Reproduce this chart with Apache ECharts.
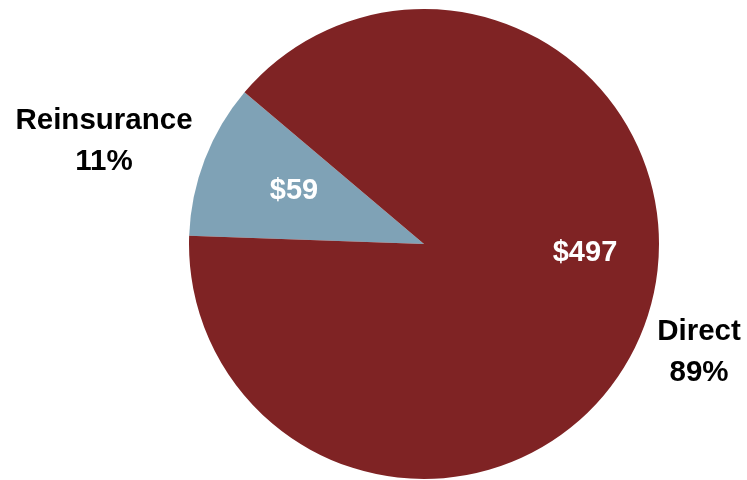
<!DOCTYPE html>
<html>
<head>
<meta charset="utf-8">
<script src="https://cdn.jsdelivr.net/npm/echarts@6/dist/echarts.min.js"></script>
<style>
html,body{margin:0;padding:0;background:#fff;}
#chart{width:747px;height:480px;}
</style>
</head>
<body>
<div id="chart"></div>
<script>
// Data
var categories = ['Reinsurance', 'Direct'];
var values = [59, 497];
var colors = ['#7FA2B6', '#7F2324'];

// Label layout (pixel positions of label centres)
var valueLabelPos = [[294, 191], [585, 253]];
var nameLabelPos = [[104, 141], [699, 352]];

var chart = echarts.init(document.getElementById('chart'), null, {renderer: 'canvas'});
var pieData = categories.map(function (c, i) {
  return { name: c, value: values[i], itemStyle: { color: colors[i] } };
});
var font = 'Liberation Sans, Arial, sans-serif';
chart.setOption({
  animation: false,
  series: [
    {
      type: 'pie',
      center: [424, 244],
      radius: 235,
      startAngle: 178,
      clockwise: true,
      data: pieData,
      itemStyle: { borderWidth: 0 },
      label: {
        show: true,
        position: 'inside',
        formatter: function (p) { return '$' + p.value; },
        color: '#ffffff',
        fontFamily: font,
        fontWeight: 'bold',
        fontSize: 29
      },
      labelLine: { show: false },
      labelLayout: function (p) {
        return { x: valueLabelPos[p.dataIndex][0], y: valueLabelPos[p.dataIndex][1], align: 'center', verticalAlign: 'middle' };
      }
    },
    {
      type: 'pie',
      center: [424, 244],
      radius: 235,
      startAngle: 178,
      clockwise: true,
      silent: true,
      z: 3,
      data: categories.map(function (c, i) {
        return { name: c, value: values[i], itemStyle: { color: 'rgba(0,0,0,0)' } };
      }),
      label: {
        show: true,
        position: 'inside',
        formatter: function (p) { return p.name + '\n' + Math.round(p.percent) + '%'; },
        color: '#000000',
        fontFamily: font,
        fontWeight: 'bold',
        fontSize: 29.5,
        lineHeight: 41,
        align: 'center'
      },
      labelLine: { show: false },
      labelLayout: function (p) {
        return { x: nameLabelPos[p.dataIndex][0], y: nameLabelPos[p.dataIndex][1], align: 'center', verticalAlign: 'middle' };
      }
    }
  ]
});
</script>
</body>
</html>
